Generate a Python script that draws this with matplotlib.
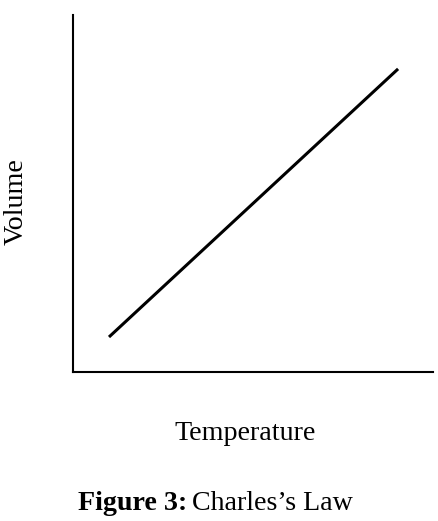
import matplotlib
matplotlib.use("Agg")
from matplotlib import pyplot as plt

# Charles's law: volume grows linearly with temperature
temperature = [1.0, 9.03]
volume = [0.98, 8.49]

plt.rcParams['font.family'] = ['Liberation Serif', 'DejaVu Serif']

fig = plt.figure(figsize=(4.39, 5.21), dpi=100)
ax = fig.add_axes([73/439, 1-372/521, 360/439, 357/521])
ax.plot(temperature, volume, color='black', lw=2.2, solid_capstyle='butt')
ax.set_xlim(0, 10)
ax.set_ylim(0, 10)
ax.spines['top'].set_visible(False)
ax.spines['right'].set_visible(False)
for s in ('left', 'bottom'):
    ax.spines[s].set_linewidth(1.5)
ax.set_xticks([])
ax.set_yticks([])

fs = 20.2
fig.text(245/439, 1-433/521, 'Temperature', ha='center', va='center', fontsize=fs)
fig.text(16/439, 1-202/521, 'Volume', ha='center', va='center', fontsize=fs, rotation=90)
fig.text(78/439, 1-503/521, 'Figure 3:', ha='left', va='center', fontsize=fs, fontweight='bold')
fig.text(192/439, 1-503/521, 'Charles\u2019s Law', ha='left', va='center', fontsize=fs)

fig.savefig('out.png', dpi=100)
